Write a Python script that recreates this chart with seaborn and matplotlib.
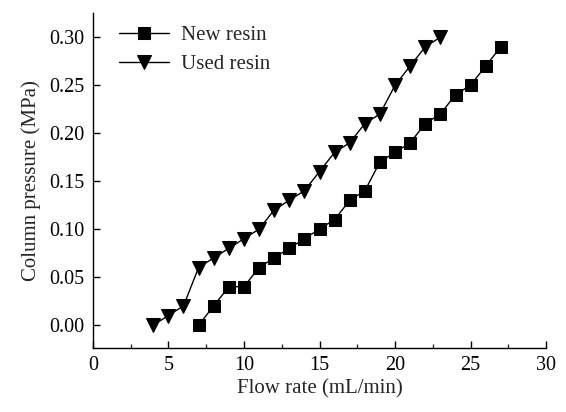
import matplotlib
matplotlib.use("Agg")
import matplotlib.pyplot as plt
from matplotlib.ticker import MultipleLocator
import seaborn as sns
import pandas as pd

# flow rate (mL/min) vs column pressure (MPa)
new_flow = [7, 8, 9, 10, 11, 12, 13, 14, 15, 16, 17, 18, 19, 20, 21, 22, 23, 24, 25, 26, 27]
new_pressure = [0.00, 0.02, 0.04, 0.04, 0.06, 0.07, 0.08, 0.09, 0.10, 0.11, 0.13,
                0.14, 0.17, 0.18, 0.19, 0.21, 0.22, 0.24, 0.25, 0.27, 0.29]
used_flow = [4, 5, 6, 7, 8, 9, 10, 11, 12, 13, 14, 15, 16, 17, 18, 19, 20, 21, 22, 23]
used_pressure = [0.00, 0.01, 0.02, 0.06, 0.07, 0.08, 0.09, 0.10, 0.12, 0.13, 0.14,
                 0.16, 0.18, 0.19, 0.21, 0.22, 0.25, 0.27, 0.29, 0.30]

sns.set_style("ticks")
plt.rcParams['font.family'] = ['Liberation Serif', 'DejaVu Serif']
plt.rcParams['font.size'] = 14

df_new = pd.DataFrame({"x": new_flow, "y": new_pressure})
df_used = pd.DataFrame({"x": used_flow, "y": used_pressure})

fig = plt.figure(figsize=(5.66, 4.12), dpi=100)
ax = fig.add_axes([0.164, 0.155, 0.801, 0.813])

sns.lineplot(data=df_new, x="x", y="y", ax=ax, color="black", lw=1,
             marker="s", markersize=8, markeredgecolor="black", label="New resin")
sns.lineplot(data=df_used, x="x", y="y", ax=ax, color="black", lw=1,
             marker="v", markersize=10, markeredgecolor="black", label="Used resin")

ax.set_xlim(0, 30)
ax.set_ylim(-0.024, 0.325)
ax.xaxis.set_major_locator(MultipleLocator(5))
ax.xaxis.set_minor_locator(MultipleLocator(2.5))
ax.set_yticks([0, 0.05, 0.1, 0.15, 0.2, 0.25, 0.3])
ax.set_yticklabels(["0.00", "0.05", "0.10", "0.15", "0.20", "0.25", "0.30"])
ax.tick_params(direction="in", length=5, width=1, colors="black", labelsize=14.5, pad=6)
ax.tick_params(which="minor", direction="in", length=3, width=1)
for side in ["top", "right"]:
    ax.spines[side].set_visible(False)
for side in ["left", "bottom"]:
    ax.spines[side].set_color("black")
    ax.spines[side].set_linewidth(1)

ax.set_xlabel("Flow rate (mL/min)", fontsize=15, labelpad=3)
ax.set_ylabel("Column pressure (MPa)", fontsize=15, labelpad=6)

ax.legend(loc="upper left", frameon=False, fontsize=15, handlelength=2.4,
          borderaxespad=0.2, bbox_to_anchor=(0.03, 1.0), labelspacing=0.45,
          handletextpad=0.6)

fig.savefig("out.png", dpi=100)
